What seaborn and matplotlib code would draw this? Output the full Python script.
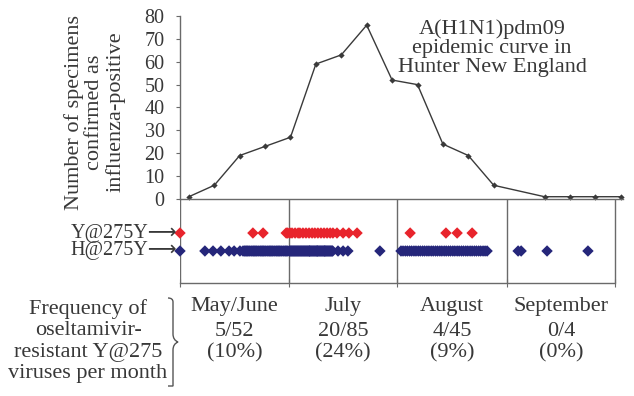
import matplotlib
matplotlib.use("Agg")
import matplotlib.pyplot as plt
from matplotlib.path import Path
from matplotlib.patches import PathPatch
import pandas as pd
import seaborn as sns

# Weekly counts of influenza-positive specimens (x in weeks from the start of May/June)
curve_week = [0.35, 1.35, 2.35, 3.35, 4.35, 5.35, 6.35, 7.35, 8.35, 9.35,
              10.35, 11.35, 12.35, 14.35, 15.35, 16.35, 17.35]
curve_count = [1, 6, 19, 23, 27, 59, 63, 76, 52, 50, 24, 19, 6, 1, 1, 1, 1]

# Month periods and oseltamivir resistance per month
month_names = ["May/June", "July", "August", "September"]
month_edges = [0.0, 4.29, 8.54, 12.87, 17.13]
resistant_n = [5, 20, 4, 0]
sequenced_n = [52, 85, 45, 4]

# Collection week of each sequenced virus, by H275Y genotype
y275_weeks = [
    # May/June
    0.00, 2.87, 3.27, 4.18, 4.24,
    # July
    4.33, 4.41, 4.53, 4.65, 4.72, 4.84, 4.96, 5.08, 5.20, 5.31,
    5.43, 5.55, 5.67, 5.79, 5.91, 6.02, 6.18, 6.42, 6.65, 6.97,
    # August
    9.06, 10.47, 10.91, 11.50,
]
h275_weeks = [
    # May/June
    0.00, 0.98, 1.30, 1.61, 1.93, 2.13, 2.36,
    2.48, 2.53, 2.57, 2.62, 2.66, 2.71, 2.75, 2.80, 2.84, 2.89,
    2.93, 2.98, 3.02, 3.07, 3.11, 3.16, 3.20, 3.25, 3.29, 3.34,
    3.38, 3.43, 3.47, 3.52, 3.56, 3.61, 3.65, 3.70, 3.74, 3.79,
    3.83, 3.88, 3.92, 3.97, 4.01, 4.06, 4.10, 4.15, 4.19, 4.24,
    # July
    4.30, 4.33, 4.36, 4.39, 4.42, 4.45, 4.48, 4.51, 4.54, 4.57,
    4.60, 4.63, 4.66, 4.69, 4.72, 4.75, 4.78, 4.81, 4.84, 4.87,
    4.90, 4.93, 4.96, 4.99, 5.02, 5.05, 5.08, 5.11, 5.14, 5.17,
    5.20, 5.23, 5.26, 5.29, 5.32, 5.35, 5.38, 5.41, 5.44, 5.47,
    5.50, 5.53, 5.56, 5.59, 5.62, 5.65, 5.68, 5.71, 5.74, 5.77,
    5.80, 5.83, 5.86, 5.89, 5.92, 5.95, 5.98, 6.01,
    5.10, 5.40, 5.70,
    6.22, 6.42, 6.61, 7.87,
    # August
    8.70, 8.78, 8.87, 8.95, 9.04, 9.12, 9.21, 9.29, 9.38, 9.46,
    9.55, 9.63, 9.72, 9.80, 9.89, 9.97, 10.06, 10.14, 10.23, 10.31,
    10.40, 10.48, 10.57, 10.65, 10.74, 10.82, 10.91, 10.99, 11.08, 11.16,
    11.25, 11.33, 11.42, 11.50, 11.59, 11.67, 11.76, 11.84, 11.93, 12.01,
    12.09,
    # September
    13.31, 13.43, 14.45, 16.06,
]
genotype_labels = ["Y@275Y", "H@275Y"]

sns.set_theme(style="white")
serif = ["Liberation Serif", "DejaVu Sans"]
plt.rcParams["font.family"] = serif
TEXT = "#383838"
LINE = "#6a6a6a"

W, H = 634, 396
fig = plt.figure(figsize=(W / 100, H / 100), dpi=100)


def fx(px):
    return px / W


def fy(py):
    return 1 - py / H


x_max = 17.44
ax_top = fig.add_axes([fx(180), fy(199), fx(623) - fx(180), fy(16) - fy(199)])
ax_strip = fig.add_axes([fx(180), fy(283), fx(623) - fx(180), fy(199) - fy(283)])

# Epidemic curve
curve = pd.DataFrame({"week": curve_week, "count": curve_count})
sns.lineplot(data=curve, x="week", y="count", ax=ax_top, color="#3a3a3a",
             linewidth=1.0, marker="D", markersize=3.2, markeredgewidth=0,
             clip_on=False)
ax_top.set_xlim(0, x_max)
ax_top.set_ylim(0, 80)
ax_top.set_yticks(range(0, 81, 10))
ax_top.set_xticks([])
ax_top.set_xlabel("")
ax_top.set_ylabel("")
ax_top.tick_params(axis="y", which="both", left=True, length=3, width=0.8,
                   color=LINE, pad=8, labelsize=14.5, labelcolor=TEXT)
for lab in ax_top.get_yticklabels():
    lab.set_family(serif)
for side in ["top", "right"]:
    ax_top.spines[side].set_visible(False)
for side in ["left", "bottom"]:
    ax_top.spines[side].set_color(LINE)
    ax_top.spines[side].set_linewidth(1.0)
ax_top.patch.set_alpha(0)

fig.text(fx(492), fy(48), "A(H1N1)pdm09\nepidemic curve in\nHunter New England",
         ha="center", va="center", fontsize=16, linespacing=1.0,
         color=TEXT, family=serif)
fig.text(fx(95), fy(112), "Number of specimens\nconfirmed as\ninfluenza-positive",
         rotation=90, ha="center", va="center", fontsize=16,
         linespacing=1.1, color=TEXT, family=serif)

# Genotype strip
row_pos = {"Y@275Y": 0.595, "H@275Y": 0.381}
strip = pd.concat([
    pd.DataFrame({"week": h275_weeks, "genotype": "H@275Y"}),
    pd.DataFrame({"week": y275_weeks, "genotype": "Y@275Y"}),
], ignore_index=True)
strip["row"] = strip["genotype"].map(row_pos)
sns.scatterplot(data=strip, x="week", y="row", hue="genotype",
                palette={"Y@275Y": "#e8242c", "H@275Y": "#25267a"},
                marker="D", s=34, linewidth=0, legend=False, ax=ax_strip,
                clip_on=False, zorder=3)
ax_strip.set_xlim(0, x_max)
ax_strip.set_ylim(0, 1)
ax_strip.set_yticks([])
ax_strip.set_xticks(month_edges)
ax_strip.set_xticklabels([])
ax_strip.set_xlabel("")
ax_strip.set_ylabel("")
ax_strip.tick_params(axis="x", bottom=True, direction="inout", length=6,
                     width=0.8, color=LINE)
for side in ["top", "right", "left"]:
    ax_strip.spines[side].set_visible(False)
ax_strip.spines["bottom"].set_color(LINE)
ax_strip.spines["bottom"].set_linewidth(1.0)
ax_strip.spines["bottom"].set_bounds(month_edges[0], month_edges[-1])
for edge in month_edges:
    ax_strip.axvline(edge, color=LINE, linewidth=1.0, zorder=1)
ax_strip.patch.set_alpha(0)

for g in genotype_labels:
    ax_strip.annotate(g + "\u27f6", xy=(0, row_pos[g]), xycoords="data",
                      xytext=(-2, 0), textcoords="offset points",
                      ha="right", va="center", fontsize=14.5, color=TEXT,
                      family=serif, annotation_clip=False)

# Monthly resistance frequency below the strip
for i, name in enumerate(month_names):
    mid = (month_edges[i] + month_edges[i + 1]) / 2
    r, n = resistant_n[i], sequenced_n[i]
    pct = round(100 * r / n)
    ax_strip.annotate(name, xy=(mid, fy(307)), xycoords=("data", "figure fraction"),
                      ha="center", va="center", fontsize=16, color=TEXT,
                      family=serif, annotation_clip=False)
    ax_strip.annotate(f"{r}/{n}\n({pct}%)", xy=(mid, fy(342)),
                      xycoords=("data", "figure fraction"),
                      ha="center", va="center", fontsize=16, linespacing=1.15,
                      color=TEXT, family=serif, annotation_clip=False)

fig.text(fx(88), fy(341), "Frequency of\noseltamivir-\nresistant Y@275\nviruses per month",
         ha="center", va="center", fontsize=16, linespacing=1.15,
         color=TEXT, family=serif)

# Curly brace joining the caption to the monthly figures
bx, top_y, mid_y, bot_y = 173, 298, 342, 386
pts = [(bx - 5, top_y), (bx, top_y), (bx, top_y + 4), (bx, top_y + 8),
       (bx, mid_y - 8), (bx, mid_y - 2), (bx + 5, mid_y),
       (bx, mid_y + 2), (bx, mid_y + 8),
       (bx, bot_y - 8), (bx, bot_y - 4), (bx, bot_y), (bx - 5, bot_y)]
codes = [Path.MOVETO, Path.CURVE3, Path.CURVE3, Path.LINETO,
         Path.LINETO, Path.CURVE3, Path.CURVE3, Path.CURVE3, Path.CURVE3,
         Path.LINETO, Path.CURVE3, Path.CURVE3, Path.LINETO]
brace = Path([(fx(x), fy(y)) for x, y in pts], codes)
fig.patches.append(PathPatch(brace, transform=fig.transFigure, fill=False,
                             edgecolor="#555555", linewidth=1.0))

fig.savefig("out.png", dpi=100)
